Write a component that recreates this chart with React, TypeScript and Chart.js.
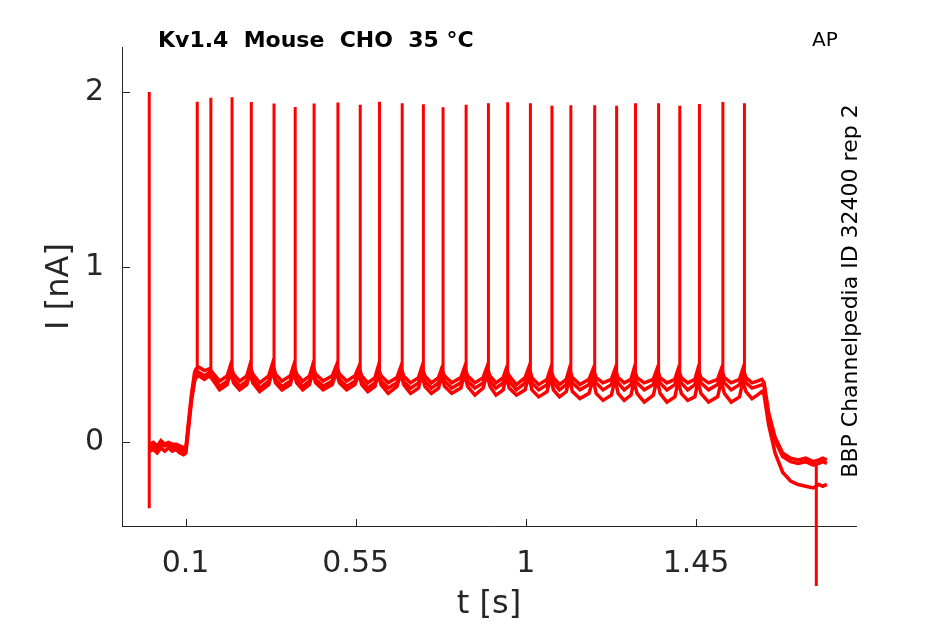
import { useEffect, useRef } from "react";
import { Chart, registerables } from "chart.js";

Chart.register(...registerables);

const TITLE = "Kv1.4  Mouse  CHO  35 °C";
const CORNER_LABEL = "AP";
const SIDE_LABEL = "BBP Channelpedia ID 32400 rep 2";

const X_TICKS = [0.1, 0.55, 1, 1.45];
const X_TICK_LABELS = ["0.1", "0.55", "1", "1.45"];
const Y_TICKS = [0, 1, 2];
const Y_TICK_LABELS = ["0", "1", "2"];

// spike (and artifact) times [s], with the low and high end of each vertical stroke [nA]
const spikeTimes = [
  0.004, 0.131, 0.167, 0.223, 0.274, 0.334, 0.39, 0.44, 0.503, 0.562, 0.613,
  0.673, 0.729, 0.781, 0.842, 0.901, 0.952, 1.012, 1.069, 1.119, 1.182, 1.24,
  1.29, 1.351, 1.407, 1.459, 1.521, 1.578, 1.768,
];
const spikeLow = [
  -0.375, 0.4, 0.4, 0.4, 0.4, 0.4, 0.4, 0.4, 0.4, 0.4, 0.4, 0.4, 0.4, 0.4, 0.4,
  0.4, 0.4, 0.4, 0.4, 0.4, 0.4, 0.4, 0.4, 0.4, 0.4, 0.4, 0.4, 0.4, -0.82,
];
const spikeHigh = [
  2.0, 1.945, 1.968, 1.97, 1.943, 1.934, 1.914, 1.934, 1.94, 1.928, 1.945,
  1.936, 1.93, 1.913, 1.928, 1.936, 1.941, 1.936, 1.922, 1.924, 1.924, 1.922,
  1.936, 1.936, 1.922, 1.932, 1.943, 1.936, -0.12,
];

// sub-threshold part of the three sweeps
const sweepTimes = [
  0.006, 0.015, 0.025, 0.035, 0.045, 0.055, 0.065, 0.075, 0.085, 0.095, 0.101, 0.108, 0.116, 0.124, 0.128,
  0.135, 0.15, 0.163,
  0.171, 0.19, 0.21, 0.219,
  0.227, 0.243, 0.262, 0.27,
  0.278, 0.296, 0.32, 0.33,
  0.338, 0.355, 0.377, 0.386,
  0.394, 0.41, 0.428, 0.436,
  0.444, 0.464, 0.488, 0.499,
  0.507, 0.526, 0.548, 0.558,
  0.566, 0.582, 0.601, 0.609,
  0.617, 0.636, 0.659, 0.669,
  0.677, 0.695, 0.716, 0.725,
  0.733, 0.75, 0.769, 0.777,
  0.785, 0.804, 0.828, 0.838,
  0.846, 0.865, 0.887, 0.897,
  0.905, 0.921, 0.94, 0.948,
  0.956, 0.975, 0.998, 1.008,
  1.016, 1.034, 1.056, 1.065,
  1.073, 1.089, 1.107, 1.115,
  1.123, 1.143, 1.167, 1.178,
  1.186, 1.204, 1.226, 1.236,
  1.244, 1.26, 1.278, 1.286,
  1.294, 1.313, 1.337, 1.347,
  1.355, 1.373, 1.394, 1.403,
  1.411, 1.428, 1.447, 1.455,
  1.463, 1.483, 1.507, 1.517,
  1.525, 1.543, 1.565, 1.574,
  1.582, 1.598, 1.612, 1.624, 1.63, 1.642, 1.659, 1.679, 1.7, 1.72, 1.74, 1.76, 1.775, 1.785, 1.796,
];

const sweepA = [
  -0.03, -0.02, -0.04, -0.01, -0.02, -0.01, -0.03, -0.02, -0.04, -0.05, -0.04, 0.1, 0.26, 0.37, 0.39,
  0.4, 0.38, 0.4,
  0.38, 0.32, 0.35, 0.42,
  0.36, 0.32, 0.35, 0.42,
  0.36, 0.31, 0.35, 0.43,
  0.36, 0.32, 0.35, 0.42,
  0.36, 0.32, 0.35, 0.42,
  0.36, 0.32, 0.35, 0.42,
  0.36, 0.32, 0.35, 0.41,
  0.35, 0.31, 0.34, 0.41,
  0.35, 0.31, 0.34, 0.41,
  0.35, 0.31, 0.34, 0.41,
  0.35, 0.31, 0.34, 0.4,
  0.35, 0.31, 0.34, 0.41,
  0.35, 0.31, 0.34, 0.41,
  0.35, 0.31, 0.34, 0.4,
  0.35, 0.3, 0.34, 0.41,
  0.34, 0.3, 0.33, 0.4,
  0.34, 0.3, 0.33, 0.4,
  0.34, 0.3, 0.33, 0.4,
  0.34, 0.3, 0.33, 0.4,
  0.34, 0.3, 0.33, 0.4,
  0.34, 0.3, 0.33, 0.4,
  0.34, 0.3, 0.33, 0.4,
  0.34, 0.3, 0.33, 0.4,
  0.34, 0.3, 0.33, 0.4,
  0.34, 0.3, 0.33, 0.4,
  0.34, 0.31, 0.32, 0.33, 0.32, 0.15, 0.01, -0.08, -0.11, -0.12, -0.11, -0.13, -0.12, -0.11, -0.12,
];

const sweepB = [
  -0.01, 0.0, -0.02, 0.01, -0.01, 0.0, -0.01, -0.01, -0.02, -0.03, -0.03, 0.12, 0.28, 0.4, 0.42,
  0.43, 0.41, 0.42,
  0.4, 0.35, 0.38, 0.44,
  0.39, 0.35, 0.38, 0.44,
  0.39, 0.34, 0.38, 0.45,
  0.39, 0.35, 0.38, 0.44,
  0.39, 0.35, 0.38, 0.44,
  0.39, 0.35, 0.38, 0.44,
  0.39, 0.35, 0.38, 0.43,
  0.38, 0.34, 0.37, 0.43,
  0.38, 0.34, 0.37, 0.43,
  0.38, 0.34, 0.37, 0.43,
  0.38, 0.34, 0.37, 0.42,
  0.38, 0.34, 0.37, 0.43,
  0.38, 0.34, 0.37, 0.43,
  0.38, 0.34, 0.37, 0.42,
  0.38, 0.33, 0.37, 0.43,
  0.37, 0.33, 0.36, 0.42,
  0.37, 0.33, 0.36, 0.42,
  0.37, 0.33, 0.36, 0.42,
  0.37, 0.34, 0.36, 0.42,
  0.37, 0.34, 0.36, 0.42,
  0.37, 0.34, 0.36, 0.42,
  0.37, 0.34, 0.36, 0.42,
  0.37, 0.34, 0.36, 0.42,
  0.37, 0.34, 0.36, 0.42,
  0.37, 0.34, 0.36, 0.42,
  0.37, 0.34, 0.35, 0.36, 0.34, 0.17, 0.03, -0.06, -0.09, -0.1, -0.09, -0.11, -0.1, -0.09, -0.1,
];

const sweepC = [
  -0.05, -0.04, -0.06, -0.03, -0.05, -0.03, -0.05, -0.04, -0.06, -0.07, -0.06, 0.08, 0.24, 0.35, 0.37,
  0.38, 0.36, 0.38,
  0.36, 0.3, 0.33, 0.4,
  0.34, 0.3, 0.33, 0.4,
  0.34, 0.29, 0.33, 0.41,
  0.34, 0.3, 0.33, 0.4,
  0.34, 0.3, 0.33, 0.4,
  0.34, 0.3, 0.33, 0.4,
  0.34, 0.3, 0.33, 0.39,
  0.33, 0.29, 0.32, 0.39,
  0.33, 0.28, 0.32, 0.39,
  0.33, 0.28, 0.31, 0.39,
  0.32, 0.28, 0.31, 0.38,
  0.32, 0.28, 0.31, 0.39,
  0.32, 0.27, 0.31, 0.39,
  0.32, 0.27, 0.3, 0.38,
  0.31, 0.27, 0.3, 0.38,
  0.3, 0.26, 0.29, 0.37,
  0.3, 0.26, 0.29, 0.37,
  0.29, 0.25, 0.28, 0.36,
  0.28, 0.24, 0.27, 0.36,
  0.28, 0.24, 0.27, 0.35,
  0.28, 0.23, 0.27, 0.36,
  0.28, 0.23, 0.26, 0.35,
  0.28, 0.24, 0.26, 0.35,
  0.28, 0.23, 0.26, 0.35,
  0.28, 0.23, 0.26, 0.35,
  0.29, 0.25, 0.27, 0.29, 0.27, 0.1, -0.06, -0.17, -0.22, -0.24, -0.25, -0.26, -0.24, -0.25, -0.24,
];

const RED = "rgb(255, 0, 0)";
const AXIS = "#262626";
const FONT = "'DejaVu Sans', sans-serif";

const textAndTicks = {
  id: "textAndTicks",
  afterDraw(chart: Chart) {
    const { ctx, chartArea } = chart;
    const xs = chart.scales.x;
    const ys = chart.scales.y;
    ctx.save();
    // inward tick marks, matlab style
    ctx.strokeStyle = AXIS;
    ctx.lineWidth = 1;
    ctx.beginPath();
    X_TICKS.forEach((v) => {
      const px = Math.round(xs.getPixelForValue(v)) + 0.5;
      ctx.moveTo(px, chartArea.bottom);
      ctx.lineTo(px, chartArea.bottom - 7);
    });
    Y_TICKS.forEach((v) => {
      const py = Math.round(ys.getPixelForValue(v)) + 0.5;
      ctx.moveTo(chartArea.left, py);
      ctx.lineTo(chartArea.left + 8, py);
    });
    ctx.stroke();

    ctx.fillStyle = "#000";
    ctx.textBaseline = "alphabetic";
    ctx.textAlign = "left";
    ctx.font = `bold 22px ${FONT}`;
    ctx.fillText(TITLE, 158, 47);
    ctx.font = `20px ${FONT}`;
    ctx.fillText(CORNER_LABEL, 812, 46);

    ctx.translate(857, 291);
    ctx.rotate(-Math.PI / 2);
    ctx.textAlign = "center";
    ctx.font = `22px ${FONT}`;
    ctx.fillText(SIDE_LABEL, 0, 0);
    ctx.restore();
  },
};

function sweep(values: number[]) {
  return {
    data: sweepTimes.map((t, i) => ({ x: t, y: values[i] })),
    borderColor: RED,
    borderWidth: 3.5,
    pointRadius: 0,
    tension: 0,
    fill: false,
  };
}

export default function App() {
  const canvasRef = useRef<HTMLCanvasElement>(null);

  useEffect(() => {
    if (!canvasRef.current) return;
    document.body.style.margin = "0";

    const spikes: Array<{ x: number; y: number | null }> = [];
    spikeTimes.forEach((t, i) => {
      spikes.push({ x: t, y: spikeLow[i] });
      spikes.push({ x: t, y: spikeHigh[i] });
      spikes.push({ x: t, y: null });
    });

    const chart = new Chart(canvasRef.current, {
      type: "line",
      data: {
        datasets: [
          sweep(sweepC),
          sweep(sweepA),
          sweep(sweepB),
          {
            data: spikes,
            borderColor: RED,
            borderWidth: 3,
            pointRadius: 0,
            spanGaps: false,
            clip: false,
          },
        ],
      },
      options: {
        responsive: false,
        animation: false,
        events: [],
        layout: { padding: { top: 47, right: 89, left: 0, bottom: 0 } },
        plugins: {
          legend: { display: false },
          tooltip: { enabled: false },
        },
        scales: {
          x: {
            type: "linear",
            min: -0.068,
            max: 1.873,
            grid: { display: false },
            border: { display: true, color: AXIS, width: 1 },
            afterBuildTicks: (scale) => {
              scale.ticks = X_TICKS.map((v) => ({ value: v }));
            },
            afterFit: (scale) => {
              scale.height = 98;
            },
            ticks: {
              color: AXIS,
              font: { family: FONT, size: 30 },
              padding: 12,
              maxRotation: 0,
              autoSkip: false,
              callback: (_v, i) => X_TICK_LABELS[i],
            },
            title: {
              display: true,
              text: "t [s]",
              color: AXIS,
              font: { family: FONT, size: 32 },
              padding: { top: 0, bottom: 0 },
            },
          },
          y: {
            type: "linear",
            min: -0.477,
            max: 2.257,
            grid: { display: false },
            border: { display: true, color: AXIS, width: 1 },
            afterBuildTicks: (scale) => {
              scale.ticks = Y_TICKS.map((v) => ({ value: v }));
            },
            afterFit: (scale) => {
              scale.width = 122;
            },
            ticks: {
              color: AXIS,
              font: { family: FONT, size: 30 },
              padding: 10,
              autoSkip: false,
              callback: (_v, i) => Y_TICK_LABELS[i],
            },
            title: {
              display: true,
              text: "I [nA]",
              color: AXIS,
              font: { family: FONT, size: 32 },
              padding: { top: 40, bottom: 0 },
            },
          },
        },
      },
      plugins: [textAndTicks],
    });

    return () => chart.destroy();
  }, []);

  return (
    <div style={{ position: "absolute", left: 0, top: 0, width: 945, height: 624 }}>
      <canvas ref={canvasRef} width={945} height={624} style={{ display: "block" }} />
    </div>
  );
}
